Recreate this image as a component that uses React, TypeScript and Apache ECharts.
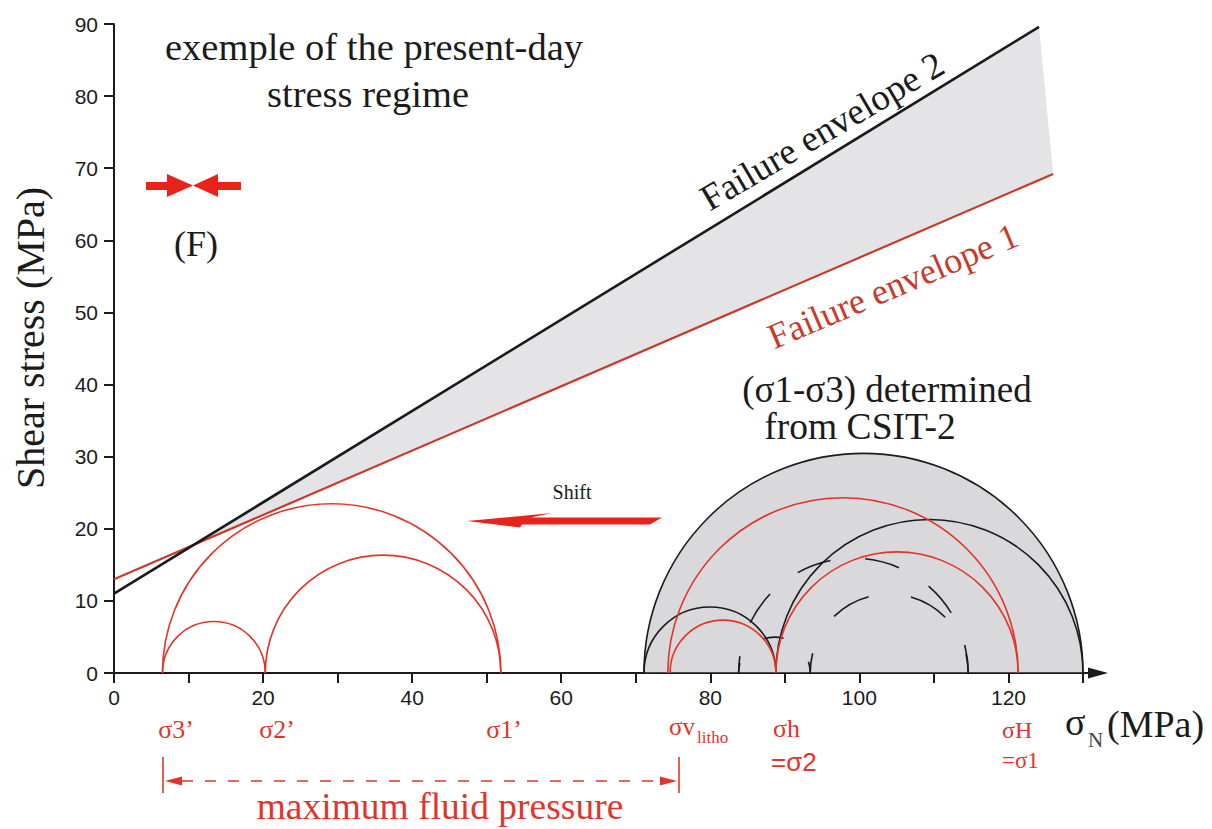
import React, { useEffect, useRef } from "react";
import * as echarts from "echarts";

// ---- data (MPa) ----
const envelope1: number[][] = [[0, 13.0], [126.0, 69.2]]; // red failure envelope
const envelope2: number[][] = [[0, 11.0], [124.1, 89.6]]; // black failure envelope
const envelopeBand: number[][] = [[10.7, 17.8], [124.1, 89.6], [126.0, 69.2]];
const shadedCircle: number[][] = [[71.1, 130.0]];
const blackCircles: number[][] = [[71.1, 88.8], [88.8, 130.0]];
const redCirclesRight: number[][] = [[74.3, 121.3], [74.6, 88.8], [88.8, 121.3]];
const redCirclesLeft: number[][] = [[6.5, 20.3], [6.5, 51.9], [20.3, 51.9]];
const dashedSmall: number[][] = [[83.8, 93.4]];
const dashedLarge: number[][] = [[83.8, 114.6]];
const dashedMid: number[][] = [[93.4, 114.6]];

const xMin = 0, xMax = 130, xStep = 10;
const yMin = 0, yMax = 90, yStep = 10;

const RED = "#e2342b";
const ENV_RED = "#c63b2c";
const INK = "#1b1b1b";
const SERIF = '"Liberation Serif", "Times New Roman", serif';
const SANS = '"Liberation Sans", Arial, sans-serif';

function circleSeries(name: string, data: number[][], style: any, z: number, filled = false) {
  return {
    type: "custom",
    name,
    data,
    z,
    silent: true,
    clip: false,
    renderItem: (_p: any, api: any) => {
      const a = api.coord([api.value(0), 0]);
      const b = api.coord([api.value(1), 0]);
      const r = (b[0] - a[0]) / 2;
      const shape = { cx: (a[0] + b[0]) / 2, cy: a[1], r, r0: 0, startAngle: Math.PI, endAngle: Math.PI * 2, clockwise: true };
      return filled
        ? { type: "sector", shape, style: { ...style } }
        : { type: "arc", shape, style: { fill: "none", ...style } };
    },
  };
}

function txt(text: string, x: number, y: number, size: number, color: string, align = "center", family = SERIF, rotation = 0) {
  return {
    type: "text",
    x,
    y,
    rotation,
    silent: true,
    style: {
      text,
      fontSize: size,
      fontFamily: family,
      fill: color,
      align,
      textAlign: align,
      verticalAlign: "middle",
      textVerticalAlign: "middle",
    },
  };
}

export default function App() {
  const ref = useRef<HTMLDivElement>(null);
  useEffect(() => {
    if (!ref.current) return;
    const chart = echarts.init(ref.current, null, { renderer: "svg" });
    const axisCommon = {
      axisLine: { show: true, lineStyle: { color: INK, width: 2 } },
      axisTick: { show: true, inside: false, length: 10, lineStyle: { color: INK, width: 2 } },
      splitLine: { show: false },
    };
    const option: any = {
      animation: false,
      backgroundColor: "#ffffff",
      grid: { left: 114, right: 129, top: 24, bottom: 156, containLabel: false },
      xAxis: {
        type: "value",
        min: xMin,
        max: xMax,
        interval: xStep,
        ...axisCommon,
        axisLabel: {
          color: INK,
          fontSize: 21,
          fontFamily: SANS,
          margin: 14,
          formatter: (v: number) => (v % 20 === 0 ? String(v) : ""),
        },
      },
      yAxis: {
        type: "value",
        min: yMin,
        max: yMax,
        interval: yStep,
        ...axisCommon,
        axisLabel: { color: INK, fontSize: 21, fontFamily: SANS, margin: 16 },
      },
      series: [
        {
          type: "custom",
          name: "band",
          data: envelopeBand,
          z: 1,
          silent: true,
          renderItem: (p: any, api: any) => {
            if (p.dataIndex !== 0) return null;
            return {
              type: "polygon",
              shape: { points: envelopeBand.map((pt) => api.coord(pt)) },
              style: { fill: "#e4e4e6" },
            };
          },
        },
        circleSeries("shaded", shadedCircle, { fill: "#d9d9db", stroke: INK, lineWidth: 1.6 }, 2, true),
        circleSeries("black", blackCircles, { stroke: INK, lineWidth: 1.6 }, 4),
        circleSeries("dashedSmall", dashedSmall, { stroke: INK, lineWidth: 1.6, lineDash: [20, 35.5], lineDashOffset: 10 }, 4),
        circleSeries("dashedLarge", dashedLarge, { stroke: INK, lineWidth: 1.6, lineDash: [35, 35], lineDashOffset: 17.5 }, 4),
        circleSeries("dashedMid", dashedMid, { stroke: INK, lineWidth: 1.6, lineDash: [40, 43], lineDashOffset: 20 }, 4),
        circleSeries("redRight", redCirclesRight, { stroke: RED, lineWidth: 1.6 }, 5),
        circleSeries("redLeft", redCirclesLeft, { stroke: RED, lineWidth: 1.6 }, 5),
        {
          type: "line",
          name: "Failure envelope 1",
          data: envelope1,
          showSymbol: false,
          z: 6,
          lineStyle: { color: ENV_RED, width: 2.2 },
        },
        {
          type: "line",
          name: "Failure envelope 2",
          data: envelope2,
          showSymbol: false,
          z: 7,
          lineStyle: { color: INK, width: 2.6 },
        },
      ],
      graphic: [
        // axis arrow
        { type: "line", silent: true, shape: { x1: 1083, y1: 673, x2: 1094, y2: 673 }, style: { stroke: INK, lineWidth: 2 } },
        { type: "polygon", silent: true, shape: { points: [[1108, 673], [1088, 667.5], [1088, 678.5]] }, style: { fill: INK } },
        // axis titles
        txt("Shear stress (MPa)", 30, 338, 40, INK, "center", SERIF, Math.PI / 2),
        txt("σ", 1065, 722, 38, INK, "left"),
        txt("N", 1088, 740, 21, "#444", "left"),
        txt("(MPa)", 1107, 724, 38, INK, "left"),
        // titles
        txt("exemple of the present-day", 374, 47, 38.5, INK),
        txt("stress regime", 368, 94, 38.5, INK),
        txt("(F)", 196, 244, 36, INK),
        // compression arrows
        { type: "polygon", silent: true, shape: { points: [[146, 182], [167, 182], [167, 174], [193, 185.5], [167, 197], [167, 190], [146, 190]] }, style: { fill: "#e8231c" } },
        { type: "polygon", silent: true, shape: { points: [[241, 182], [218, 182], [218, 174], [193, 185.5], [218, 197], [218, 190], [241, 190]] }, style: { fill: "#e8231c" } },
        // envelope labels
        txt("Failure envelope 2", 822, 131, 37, INK, "center", SERIF, (30.5 * Math.PI) / 180),
        txt("Failure envelope 1", 893, 286, 36, ENV_RED, "center", SERIF, (23 * Math.PI) / 180),
        txt("(σ1-σ3) determined", 887, 389, 37, INK),
        txt("from CSIT-2", 860, 426, 37.5, INK),
        // shift arrow
        txt("Shift", 572, 492, 20, INK),
        {
          type: "polygon",
          silent: true,
          shape: { points: [[467, 521], [552, 513], [531, 517.5], [662, 517.5], [650, 524.5], [522, 524.5], [520, 527.5]] },
          style: { fill: "#e8231c" },
        },
        // principal stress labels
        txt("σ3’", 176, 729, 26, RED),
        txt("σ2’", 277, 729, 26, RED),
        txt("σ1’", 504, 729, 26, RED),
        txt("σv", 669, 726, 25, RED, "left"),
        txt("litho", 697, 737, 17, RED, "left"),
        txt("σh", 773, 728, 26, RED, "left"),
        txt("=σ2", 771, 762, 26, RED, "left", SANS),
        txt("σH", 1002, 730, 24, RED, "left"),
        txt("=σ1", 1002, 760, 23, RED, "left"),
        // maximum fluid pressure
        { type: "line", silent: true, shape: { x1: 163, y1: 757, x2: 163, y2: 793 }, style: { stroke: RED, lineWidth: 1.6 } },
        { type: "line", silent: true, shape: { x1: 679, y1: 757, x2: 679, y2: 793 }, style: { stroke: RED, lineWidth: 1.6 } },
        { type: "line", silent: true, shape: { x1: 182, y1: 781, x2: 660, y2: 781 }, style: { stroke: RED, lineWidth: 1.6, lineDash: [11, 12] } },
        { type: "polygon", silent: true, shape: { points: [[165, 781], [182, 776.5], [182, 785.5]] }, style: { fill: RED } },
        { type: "polygon", silent: true, shape: { points: [[677, 781], [660, 776.5], [660, 785.5]] }, style: { fill: RED } },
        txt("maximum fluid pressure", 440, 806, 37.5, RED),
      ],
    };
    chart.setOption(option);
    return () => chart.dispose();
  }, []);
  return (
    <div
      ref={ref}
      style={{ position: "absolute", left: 0, top: 0, width: 1212, height: 829, background: "#fff" }}
    />
  );
}
